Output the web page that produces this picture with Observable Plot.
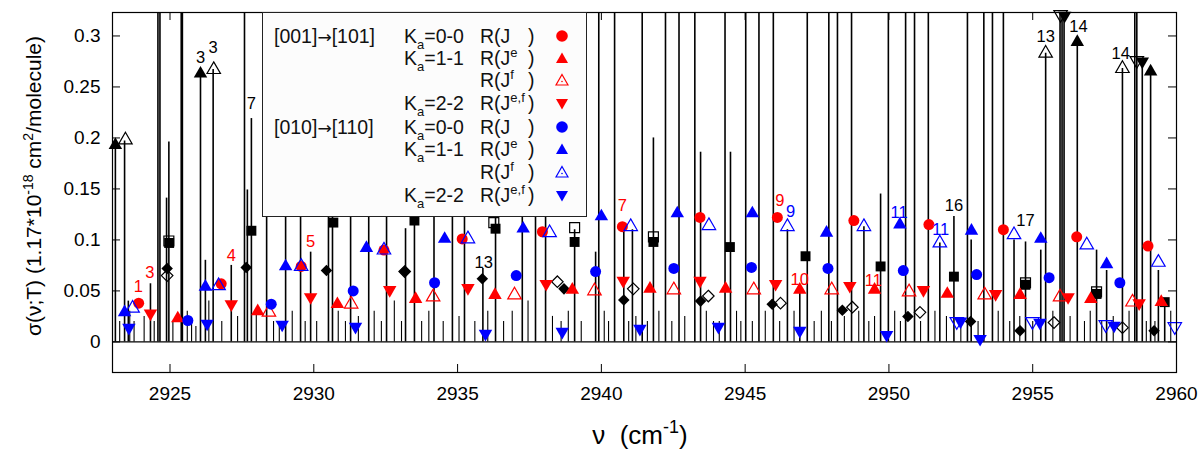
<!DOCTYPE html>
<html><head><meta charset="utf-8">
<script src="https://cdn.jsdelivr.net/npm/d3@7"></script>
<script src="https://cdn.jsdelivr.net/npm/@observablehq/plot@0.6"></script>
<style>
body{margin:0;background:#fff;font-family:"Liberation Sans",Arial,Helvetica,sans-serif;}
#wrap{position:relative;width:1202px;height:452px;overflow:hidden;}
#legend{position:absolute;left:262px;top:12px;width:325px;height:205px;box-sizing:border-box;border:1px solid #222;background:#fcfcfc;font-size:19.5px;color:#111;}
.row{position:absolute;left:0;width:100%;height:24px;line-height:24px;white-space:nowrap;}
.row span.c{position:absolute;top:0;}
.arr{font-family:"DejaVu Sans",sans-serif;font-size:17px;}
.sub{font-size:13px;position:relative;top:6px;}
.sup{font-size:13px;position:relative;top:-8px;}
.row svg{position:absolute;top:5px;}
</style></head>
<body><div id="wrap"><div id="legend"></div></div>
<script>
// ---- data (wavenumber cm^-1, cross-section in 1.17e-18 cm^2/molecule) ----
const xTicks = [2925, 2930, 2935, 2940, 2945, 2950, 2955, 2960];
const yTicks = [0, 0.05, 0.1, 0.15, 0.2, 0.25, 0.3];

// strong lines that run off the top of the panel
const strongLines = [[2924.58,0.5],[2924.65,0.5],[2925.39,0.5],[2925.43,0.5],[2927.59,0.5],[2928.36,0.5],[2929.02,0.5],[2929.54,0.5],[2930.51,0.5],[2930.65,0.5],[2931.28,0.5],[2931.91,0.5],[2932.53,0.5],[2933.50,0.5],[2934.18,0.5],[2934.82,0.5],[2935.24,0.5],[2936.32,0.5],[2937.25,0.5],[2937.71,0.5],[2938.06,0.5],[2939.91,0.5],[2940.46,0.5],[2941.42,0.5],[2942.23,0.5],[2942.70,0.5],[2943.25,0.5],[2944.30,0.5],[2945.02,0.5],[2945.48,0.5],[2945.98,0.5],[2947.16,0.5],[2947.91,0.5],[2948.21,0.5],[2948.70,0.5],[2949.98,0.5],[2950.58,0.5],[2950.89,0.5],[2951.37,0.5],[2952.73,0.5],[2953.30,0.5],[2953.60,0.5],[2953.98,0.5],[2955.95,0.5],[2956.02,0.5],[2956.09,0.5],[2958.55,0.5],[2958.62,0.5]];
// medium lines
const mediumLines = [[2923.10,0.195],[2923.42,0.197],[2923.55,0.04],[2924.32,0.057],[2924.88,0.141],[2924.96,0.196],[2926.06,0.264],[2926.23,0.08],[2926.50,0.267],[2927.13,0.075],[2927.69,0.149],[2927.83,0.219],[2929.89,0.088],[2933.19,0.111],[2935.88,0.072],[2939.07,0.11],[2939.80,0.088],[2940.78,0.113],[2941.08,0.11],[2941.81,0.2],[2943.45,0.186],[2944.49,0.186],[2946.47,0.11],[2946.90,0.05],[2949.13,0.113],[2949.71,0.145],[2951.77,0.097],[2952.26,0.123],[2952.86,0.10],[2954.35,0.10],[2954.75,0.098],[2955.28,0.09],[2955.45,0.283],[2956.55,0.294],[2957.22,0.09],[2957.57,0.07],[2958.12,0.268],[2958.81,0.275],[2959.10,0.265],[2959.37,0.07],[2959.59,0.04]];
// weak lines forming the baseline texture
const weakLines = [[2923.25,0.02],[2923.6,0.03],[2923.75,0.02],[2924.1,0.025],[2924.45,0.02],[2925.1,0.02],[2925.6,0.03],[2925.75,0.02],[2925.9,0.015],[2926.35,0.04],[2926.8,0.02],[2927.35,0.025],[2928.0,0.03],[2928.6,0.02],[2928.8,0.015],[2929.25,0.03],[2929.7,0.02],[2930.1,0.02],[2930.85,0.03],[2931.1,0.02],[2931.55,0.025],[2932.1,0.03],[2932.35,0.02],[2932.8,0.04],[2933.05,0.02],[2933.75,0.02],[2934.0,0.03],[2934.5,0.02],[2935.05,0.025],[2935.6,0.02],[2936.05,0.03],[2936.6,0.02],[2936.9,0.03],[2937.45,0.04],[2938.3,0.025],[2938.6,0.02],[2938.85,0.03],[2939.3,0.02],[2940.1,0.03],[2940.25,0.02],[2940.95,0.02],[2941.2,0.025],[2941.6,0.02],[2942.0,0.03],[2942.45,0.02],[2942.9,0.025],[2943.65,0.03],[2943.9,0.02],[2944.1,0.02],[2944.7,0.03],[2944.85,0.02],[2945.25,0.02],[2945.7,0.03],[2946.2,0.02],[2946.7,0.03],[2947.4,0.02],[2947.65,0.03],[2948.0,0.02],[2948.45,0.025],[2948.95,0.03],[2949.3,0.02],[2949.5,0.025],[2950.2,0.03],[2950.4,0.02],[2951.1,0.02],[2951.6,0.03],[2952.0,0.025],[2952.5,0.02],[2953.1,0.02],[2953.8,0.03],[2954.2,0.02],[2954.55,0.025],[2955.0,0.02],[2955.7,0.03],[2956.3,0.025],[2956.8,0.02],[2957.0,0.03],[2957.4,0.02],[2957.8,0.025],[2958.35,0.03],[2958.95,0.02],[2959.25,0.02],[2959.8,0.03]];

// [001]->[101]
const redKa00 = [[2923.91,0.038],[2926.78,0.057],[2929.56,0.074],[2932.44,0.090],[2935.16,0.101],[2937.95,0.108],[2940.73,0.113],[2943.43,0.122],[2946.12,0.122],[2948.78,0.119],[2951.39,0.115],[2953.98,0.110],[2956.53,0.103],[2959.01,0.094]];
const redKa11e = [[2925.27,0.023],[2928.05,0.030],[2930.82,0.037],[2933.54,0.042],[2936.30,0.046],[2938.99,0.051],[2941.69,0.052],[2944.32,0.052],[2946.90,0.051],[2949.50,0.051],[2952.03,0.047],[2954.56,0.046],[2957.02,0.042],[2959.47,0.039]];
const redKa11f = [[2928.44,0.029],[2931.30,0.037],[2934.15,0.044],[2936.98,0.046],[2939.76,0.050],[2942.52,0.051],[2945.30,0.051],[2948.01,0.051],[2950.70,0.049],[2953.33,0.046],[2955.95,0.044],[2958.47,0.039]];
const redKa22 = [[2924.32,0.028],[2927.13,0.037],[2929.89,0.044],[2932.64,0.051],[2935.36,0.053],[2938.08,0.057],[2940.76,0.060],[2943.43,0.060],[2946.06,0.057],[2948.64,0.055],[2951.20,0.051],[2953.71,0.047],[2956.23,0.044],[2958.70,0.038]];
// [010]->[110]
const blueKa00 = [[2925.62,0.021],[2928.52,0.037],[2931.37,0.050],[2934.20,0.058],[2937.04,0.065],[2939.80,0.069],[2942.52,0.072],[2945.22,0.073],[2947.88,0.072],[2950.50,0.070],[2953.05,0.066],[2955.57,0.063],[2958.03,0.058]];
const blueKa11e = [[2923.42,0.029],[2926.23,0.054],[2929.02,0.074],[2931.83,0.092],[2934.55,0.101],[2937.28,0.111],[2940.00,0.123],[2942.64,0.126],[2945.25,0.126],[2947.83,0.107],[2950.38,0.115],[2952.87,0.109],[2955.28,0.101],[2957.57,0.076]];
const blueKa11f = [[2923.70,0.033],[2926.69,0.055],[2929.56,0.074],[2932.44,0.090],[2935.36,0.101],[2938.20,0.107],[2941.02,0.113],[2943.74,0.114],[2946.47,0.113],[2949.13,0.113],[2951.77,0.097],[2954.35,0.105],[2956.88,0.095],[2959.37,0.078]];
const blueKa22 = [[2923.57,0.014],[2926.29,0.018],[2928.90,0.017],[2931.45,0.015],[2935.97,0.008],[2938.64,0.010],[2941.34,0.013],[2944.07,0.015],[2946.90,0.011],[2949.92,0.007],[2952.49,0.020],[2953.17,0.003],[2955.25,0.019],[2957.83,0.016]];
const blueKa22open = [[2952.36,0.020],[2954.99,0.020],[2957.54,0.017],[2959.94,0.015]];
// black (unlabelled) series
const blackTriUp = [[2923.10,0.193],[2926.06,0.263],[2956.55,0.294],[2959.10,0.265]];
const blackTriUpOpen = [[2923.45,0.198],[2926.52,0.267],[2955.45,0.283],[2958.12,0.268]];
const blackTriDown = [[2956.11,0.320],[2958.81,0.275]];
const blackTriDownOpen = [[2955.97,0.321],[2958.62,0.276]];
const blackSquare = [[2924.97,0.097],[2927.83,0.109],[2930.68,0.117],[2933.50,0.119],[2936.32,0.111],[2939.07,0.098],[2941.81,0.098],[2944.47,0.093],[2947.10,0.084],[2949.71,0.074],[2952.26,0.064],[2954.75,0.056],[2957.22,0.047],[2959.59,0.039]];
const blackSquareOpen = [[2924.96,0.099],[2936.26,0.117],[2939.07,0.112],[2941.81,0.103],[2954.75,0.058],[2957.22,0.049]];
const blackDiamond = [[2924.90,0.072],[2927.65,0.073],[2930.44,0.070],[2933.16,0.069],[2935.86,0.062],[2938.70,0.052],[2940.78,0.041],[2943.45,0.040],[2945.94,0.037],[2948.38,0.031],[2950.66,0.025],[2952.84,0.020],[2954.56,0.011],[2959.22,0.011]];
const blackDiamondOpen = [[2924.90,0.065],[2933.16,0.069],[2938.47,0.059],[2941.11,0.052],[2943.72,0.045],[2946.23,0.038],[2948.73,0.034],[2951.08,0.029],[2955.74,0.019],[2958.12,0.014]];
// J labels
const redLabels = [["1",2923.90,0.054],["3",2924.30,0.068],["4",2927.13,0.085],["5",2929.89,0.098],["7",2940.73,0.134],["9",2946.21,0.138],["10",2946.90,0.061],["11",2949.46,0.060]];
const blueLabels = [["9",2946.58,0.128],["11",2950.35,0.127],["11",2951.80,0.110]];
const blackLabels = [["3",2926.06,0.279],["3",2926.50,0.288],["7",2927.83,0.234],["13",2935.91,0.078],["16",2952.26,0.134],["17",2954.75,0.119],["13",2955.45,0.299],["14",2956.59,0.309],["14",2958.06,0.283]];
// legend
const legendRows = [
  {group:"[001]", arrow:"\u2192", group2:"[101]", ka:"0-0", sup:"", color:"red", sym:"circle"},
  {group:"", ka:"1-1", sup:"e", color:"red", sym:"tri"},
  {group:"", ka:"", sup:"f", color:"red", sym:"otri"},
  {group:"", ka:"2-2", sup:"e,f", color:"red", sym:"dtri"},
  {group:"[010]", arrow:"\u2192", group2:"[110]", ka:"0-0", sup:"", color:"blue", sym:"circle"},
  {group:"", ka:"1-1", sup:"e", color:"blue", sym:"tri"},
  {group:"", ka:"", sup:"f", color:"blue", sym:"otri"},
  {group:"", ka:"2-2", sup:"e,f", color:"blue", sym:"dtri"}
];

// ---- drawing ----
const W = 1202, H = 452, ml = 112, mr = 26, mt = 12, mb = 80;
const fw = W - ml - mr, fh = H - mt - mb;
const RED = "#ff0000", BLUE = "#0000ff";
const triDown = {draw(ctx, size) {
  const y = -Math.sqrt(size / (Math.sqrt(3) * 3));
  ctx.moveTo(0, -2 * y); ctx.lineTo(-Math.sqrt(3) * y, y); ctx.lineTo(Math.sqrt(3) * y, y); ctx.closePath();
}};
const X = d => d[0], Y = d => d[1];
const filled = (data, symbol, color, r) => Plot.dot(data, {x: X, y: Y, symbol, fill: color, stroke: "none", r});
const open = (data, symbol, color, r) => Plot.dot(data, {x: X, y: Y, symbol, fill: "none", stroke: color, strokeWidth: 1.2, r});
const labels = (data, color) => Plot.text(data, {x: d => d[1], y: d => d[2], text: d => d[0], fill: color, fontSize: 16.5});

const chart = Plot.plot({
  width: W, height: H, marginLeft: ml, marginRight: mr, marginTop: mt, marginBottom: mb,
  style: {fontFamily: "Liberation Sans, Arial, Helvetica, sans-serif", fontSize: "19px", color: "black", background: "white"},
  x: {domain: [2923, 2960], ticks: xTicks, tickSize: 0, tickPadding: 14, tickFormat: d => `${d}`, label: null},
  y: {domain: [-0.03, 0.323], ticks: yTicks, tickSize: 0, tickPadding: 12, tickFormat: d => `${d}`, label: null},
  marks: [
    Plot.ruleY([0], {stroke: "black", strokeWidth: 1.2}),
    Plot.ruleX(weakLines, {x: X, y1: 0, y2: Y, stroke: "black", strokeWidth: 1.1}),
    Plot.ruleX(mediumLines, {x: X, y1: 0, y2: Y, stroke: "black", strokeWidth: 1.6}),
    Plot.ruleX(strongLines, {x: X, y1: 0, y2: Y, stroke: "black", strokeWidth: 1.6, clip: true}),
    open(blackSquareOpen, "square", "black", 5.6),
    filled(blackSquare, "square", "black", 5.6),
    open(blackDiamondOpen, "diamond2", "black", 5.2),
    filled(blackDiamond, "diamond2", "black", 5.2),
    open(blackTriUpOpen, "triangle", "black", 5),
    filled(blackTriUp, "triangle", "black", 5),
    open(blackTriDownOpen, triDown, "black", 5),
    filled(blackTriDown, triDown, "black", 5),
    open(redKa11f, "triangle", RED, 5),
    filled(redKa11e, "triangle", RED, 5),
    filled(redKa22, triDown, RED, 5),
    filled(redKa00, "circle", RED, 5.5),
    open(blueKa11f, "triangle", BLUE, 5),
    open(blueKa22open, triDown, BLUE, 5),
    filled(blueKa11e, "triangle", BLUE, 5),
    filled(blueKa22, triDown, BLUE, 5),
    filled(blueKa00, "circle", BLUE, 5.5),
    labels(redLabels, RED),
    labels(blueLabels, BLUE),
    labels(blackLabels, "black"),
    // inward ticks on all four sides
    Plot.ruleX(xTicks, {x: d => d, insetTop: fh - 8, stroke: "black"}),
    Plot.ruleX(xTicks, {x: d => d, insetBottom: fh - 8, stroke: "black"}),
    Plot.ruleY(yTicks, {y: d => d, insetRight: fw - 8, stroke: "black"}),
    Plot.ruleY(yTicks, {y: d => d, insetLeft: fw - 8, stroke: "black"}),
    Plot.frame({stroke: "black", strokeWidth: 1.2})
  ]
});

const wrap = document.getElementById("wrap");
wrap.insertBefore(chart, wrap.firstChild);

// axis titles with superscripts
const svg = d3.select(chart);
const yt = svg.append("text").attr("transform", "translate(41,186) rotate(-90)")
  .attr("text-anchor", "middle").attr("font-size", 21).attr("fill", "black");
yt.append("tspan").text("\u03c3(\u03bd;T) (1.17*10");
yt.append("tspan").attr("dy", -8).attr("font-size", 14).text("-18");
yt.append("tspan").attr("dy", 8).text(" cm");
yt.append("tspan").attr("dy", -8).attr("font-size", 14).text("2");
yt.append("tspan").attr("dy", 8).text("/molecule)");
const xt = svg.append("text").attr("x", 640).attr("y", 444)
  .attr("text-anchor", "middle").attr("font-size", 26).attr("fill", "black").attr("xml:space", "preserve");
xt.append("tspan").text("\u03bd  (cm");
xt.append("tspan").attr("dy", -11).attr("font-size", 18).text("-1");
xt.append("tspan").attr("dy", 11).text(")");

// legend
function markerSvg(sym, color) {
  let shape;
  if (sym === "circle") shape = `<circle cx="7" cy="7" r="5.8" fill="${color}"/>`;
  else if (sym === "tri") shape = `<path d="M7,1.5L13,12L1,12Z" fill="${color}"/>`;
  else if (sym === "otri") shape = `<path d="M7,1.5L13,12L1,12Z" fill="none" stroke="${color}" stroke-width="1.2"/><circle cx="7" cy="8.5" r="0.8" fill="${color}"/>`;
  else shape = `<path d="M1,3L13,3L7,13.5Z" fill="${color}"/>`;
  return `<svg width="14" height="15" style="left:292px">${shape}</svg>`;
}
const rowCenters = [24, 45.5, 68, 91, 114.5, 137, 160, 183];
const leg = document.getElementById("legend");
legendRows.forEach((r, i) => {
  const div = document.createElement("div");
  div.className = "row";
  div.style.top = (rowCenters[i] - 12 - 1) + "px";
  let html = "";
  if (r.group) html += `<span class="c" style="left:11px">${r.group}<span class="arr">${r.arrow}</span>${r.group2}</span>`;
  if (r.ka) html += `<span class="c" style="left:141px">K<span class="sub">a</span>=${r.ka}</span>`;
  html += `<span class="c" style="left:217px">R(J${r.sup ? `<span class="sup">${r.sup}</span>` : ""}</span>`;
  html += `<span class="c" style="left:265px">)</span>`;
  html += markerSvg(r.sym, r.color === "red" ? RED : BLUE);
  div.innerHTML = html;
  leg.appendChild(div);
});
</script>
</body></html>
